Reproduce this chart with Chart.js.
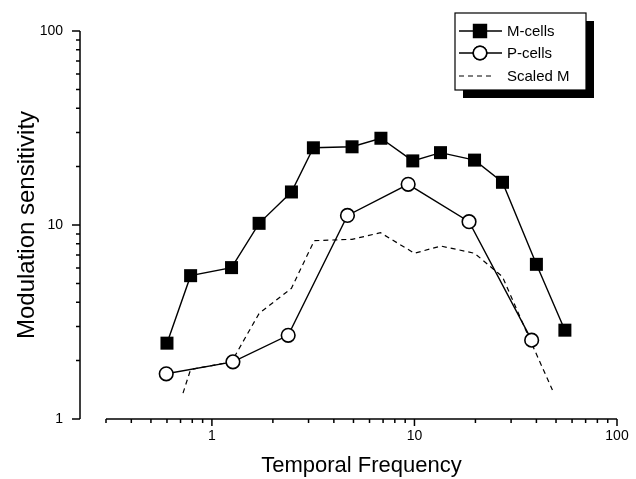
<!DOCTYPE html>
<html lang="en">
<head>
    <meta charset="UTF-8">
    <title>Modulation sensitivity x Temporal Frequency</title>
    <style>
        html, body { margin: 0; padding: 0; background: #fff; }
        #grafico { display: block; }
    </style>
</head>
<body>
    <canvas id="grafico" width="636" height="479"></canvas>

    <script src="https://cdn.jsdelivr.net/npm/chart.js@4"></script>

    <script>
        // valores
        const mFreq = [0.6, 0.785, 1.25, 1.71, 2.47, 3.17, 4.92, 6.83, 9.81, 13.45, 19.8, 27.2, 40.0, 55.3];
        const mSens = [2.46, 5.48, 6.03, 10.2, 14.8, 25.0, 25.3, 28.0, 21.4, 23.6, 21.6, 16.6, 6.27, 2.87];

        const pFreq = [0.595, 1.27, 2.38, 4.67, 9.31, 18.6, 37.9];
        const pSens = [1.71, 1.97, 2.70, 11.2, 16.2, 10.4, 2.55];

        const scaledFreq = [0.72, 0.785, 1.25, 1.71, 2.47, 3.2, 4.92, 6.8, 10.0, 13.5, 19.8, 27.2, 37.9, 48];
        const scaledSens = [1.36, 1.80, 1.97, 3.5, 4.72, 8.3, 8.44, 9.12, 7.15, 7.79, 7.15, 5.41, 2.45, 1.41];

        const xTicks = [0.3, 0.4, 0.5, 0.6, 0.7, 0.8, 0.9, 1, 2, 3, 4, 5, 6, 7, 8, 9, 10, 20, 30, 40, 50, 60, 70, 80, 90, 100];
        const yTicks = [1, 2, 3, 4, 5, 6, 7, 8, 9, 10, 20, 30, 40, 50, 60, 70, 80, 90, 100];
        const majorTicks = [1, 10, 100];

        const fonte = "'Liberation Sans', Arial, Helvetica, sans-serif";
        Chart.defaults.font.family = fonte;
        Chart.defaults.color = '#000';

        const pontos = (xs, ys) => xs.map((v, i) => ({ x: v, y: ys[i] }));

        // eixos desenhados a mao: eixo y fica afastado 26px a esquerda do eixo x
        const eixos = {
            id: 'eixos',
            afterDraw(chart) {
                const { ctx, chartArea, scales: { x, y } } = chart;
                const yAxisX = chartArea.left - 26;
                ctx.save();
                ctx.strokeStyle = '#000';
                ctx.lineWidth = 1.5;
                ctx.beginPath();

                ctx.moveTo(chartArea.left, chartArea.bottom);
                ctx.lineTo(chartArea.right, chartArea.bottom);
                xTicks.forEach(v => {
                    const px = x.getPixelForValue(v);
                    const len = majorTicks.includes(v) ? 7 : 4;
                    ctx.moveTo(px, chartArea.bottom);
                    ctx.lineTo(px, chartArea.bottom + len);
                });

                ctx.moveTo(yAxisX, chartArea.top);
                ctx.lineTo(yAxisX, chartArea.bottom);
                yTicks.forEach(v => {
                    const py = y.getPixelForValue(v);
                    const len = majorTicks.includes(v) ? 8 : 4;
                    ctx.moveTo(yAxisX, py);
                    ctx.lineTo(yAxisX - len, py);
                });
                ctx.stroke();
                ctx.restore();
            }
        };

        // legenda com caixa e sombra
        const legenda = {
            id: 'legenda',
            afterDraw(chart) {
                const { ctx } = chart;
                const box = { x: 455, y: 13, w: 131, h: 77 };
                ctx.save();
                ctx.fillStyle = '#000';
                ctx.fillRect(box.x + 8, box.y + 8, box.w, box.h);
                ctx.fillStyle = '#fff';
                ctx.fillRect(box.x, box.y, box.w, box.h);
                ctx.strokeStyle = '#000';
                ctx.lineWidth = 1.2;
                ctx.strokeRect(box.x, box.y, box.w, box.h);

                const linhas = [31, 53, 76];
                chart.data.datasets.forEach((ds, i) => {
                    const ly = linhas[i];
                    ctx.beginPath();
                    ctx.lineWidth = ds.borderWidth;
                    ctx.setLineDash(ds.borderDash || []);
                    ctx.moveTo(box.x + 4, ly);
                    ctx.lineTo(ds.borderDash ? 494 : 502, ly);
                    ctx.stroke();
                    ctx.setLineDash([]);
                    if (ds.pointRadius > 0) {
                        Chart.helpers.drawPoint(ctx, {
                            pointStyle: ds.pointStyle,
                            radius: ds.pointRadius,
                            borderWidth: ds.pointBorderWidth,
                        }, 480, ly);
                        ctx.fillStyle = ds.pointBackgroundColor;
                        ctx.strokeStyle = '#000';
                        ctx.lineWidth = ds.pointBorderWidth;
                        ctx.fill();
                        ctx.stroke();
                    }
                    ctx.fillStyle = '#000';
                    ctx.font = '15px ' + fonte;
                    ctx.textBaseline = 'middle';
                    ctx.fillText(ds.label, 507, ly + 1);
                });
                ctx.restore();
            }
        };

        const ctx = document.getElementById('grafico').getContext('2d');

        const grafico = new Chart(ctx, {
            type: 'line',
            data: {
                datasets: [
                    {
                        label: 'M-cells',
                        data: pontos(mFreq, mSens),
                        borderColor: '#000',
                        borderWidth: 1.4,
                        pointStyle: 'rect',
                        pointRadius: 9.2,
                        pointBorderWidth: 0,
                        pointBackgroundColor: '#000',
                        pointBorderColor: '#000',
                    },
                    {
                        label: 'P-cells',
                        data: pontos(pFreq, pSens),
                        borderColor: '#000',
                        borderWidth: 1.4,
                        pointStyle: 'circle',
                        pointRadius: 6.8,
                        pointBorderWidth: 1.6,
                        pointBackgroundColor: '#fff',
                        pointBorderColor: '#000',
                    },
                    {
                        label: 'Scaled M',
                        data: pontos(scaledFreq, scaledSens),
                        borderColor: '#000',
                        borderWidth: 1.2,
                        borderDash: [5, 4],
                        pointRadius: 0,
                        pointBorderWidth: 0,
                    }
                ]
            },
            options: {
                responsive: false,
                animation: false,
                layout: { padding: { top: 31, right: 19, bottom: 0, left: 0 } },
                plugins: {
                    legend: { display: false },
                    tooltip: { enabled: false }
                },
                scales: {
                    x: {
                        type: 'logarithmic',
                        min: 0.3,
                        max: 100,
                        bounds: 'data',
                        afterBuildTicks: s => { s.ticks = xTicks.map(v => ({ value: v })); },
                        afterFit: s => { s.height = 60; },
                        grid: { display: true, drawOnChartArea: false, drawTicks: true, tickLength: 7, color: 'rgba(0,0,0,0)' },
                        border: { display: false },
                        ticks: {
                            autoSkip: false,
                            maxRotation: 0,
                            padding: 2,
                            font: { size: 14 },
                            callback: v => majorTicks.includes(v) ? String(v) : ''
                        },
                        title: {
                            display: true,
                            text: 'Temporal Frequency',
                            font: { size: 22 },
                            padding: { top: 0, bottom: 0 }
                        }
                    },
                    y: {
                        type: 'logarithmic',
                        min: 1,
                        max: 100,
                        bounds: 'data',
                        afterBuildTicks: s => { s.ticks = yTicks.map(v => ({ value: v })); },
                        afterFit: s => { s.width = 106; },
                        grid: { display: true, drawOnChartArea: false, drawTicks: true, tickLength: 41, color: 'rgba(0,0,0,0)' },
                        border: { display: false },
                        ticks: {
                            autoSkip: false,
                            padding: 2,
                            font: { size: 14 },
                            callback: v => majorTicks.includes(v) ? String(v) : ''
                        },
                        title: {
                            display: true,
                            text: 'Modulation sensitivity',
                            font: { size: 24 },
                            padding: { top: 13, bottom: 0 }
                        }
                    }
                }
            },
            plugins: [eixos, legenda]
        });
    </script>
</body>
</html>
